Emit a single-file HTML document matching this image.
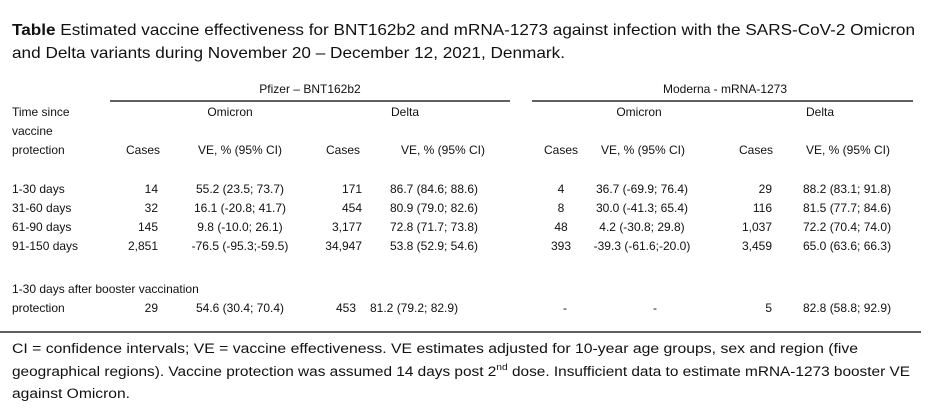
<!DOCTYPE html>
<html><head><meta charset="utf-8"><style>
html,body{margin:0;padding:0;background:#fff}
svg{display:block}
text{font-family:"Liberation Sans",sans-serif;fill:#111}
.t{font-size:12px}
.f{font-size:13.5px}
</style></head><body>
<svg width="932" height="417" viewBox="0 0 932 417" xmlns="http://www.w3.org/2000/svg">
<text x="12" y="35" font-size="16" textLength="903" lengthAdjust="spacingAndGlyphs"><tspan font-weight="bold">Table</tspan> Estimated vaccine effectiveness for BNT162b2 and mRNA-1273 against infection with the SARS-CoV-2 Omicron</text>
<text x="12" y="58" font-size="16" textLength="553" lengthAdjust="spacingAndGlyphs">and Delta variants during November 20 – December 12, 2021, Denmark.</text>

<g class="t">
<text x="310" y="93" text-anchor="middle">Pfizer – BNT162b2</text>
<text x="725" y="93" text-anchor="middle">Moderna - mRNA-1273</text>
<line x1="110" y1="101" x2="510" y2="101" stroke="#000" stroke-width="1.2"/>
<line x1="532" y1="101" x2="913" y2="101" stroke="#000" stroke-width="1.2"/>
<text x="230" y="116" text-anchor="middle">Omicron</text>
<text x="405" y="116" text-anchor="middle">Delta</text>
<text x="639" y="116" text-anchor="middle">Omicron</text>
<text x="820" y="116" text-anchor="middle">Delta</text>
<text x="12" y="116">Time since</text>
<text x="12" y="135">vaccine</text>
<text x="12" y="154">protection</text>
<text x="143" y="154" text-anchor="middle">Cases</text>
<text x="240" y="154" text-anchor="middle">VE, % (95% CI)</text>
<text x="343" y="154" text-anchor="middle">Cases</text>
<text x="443" y="154" text-anchor="middle">VE, % (95% CI)</text>
<text x="561" y="154" text-anchor="middle">Cases</text>
<text x="643" y="154" text-anchor="middle">VE, % (95% CI)</text>
<text x="756" y="154" text-anchor="middle">Cases</text>
<text x="848" y="154" text-anchor="middle">VE, % (95% CI)</text>

<g>
<text x="12" y="193">1-30 days</text>
<text x="158" y="193" text-anchor="end">14</text>
<text x="240" y="193" text-anchor="middle">55.2 (23.5; 73.7)</text>
<text x="362" y="193" text-anchor="end">171</text>
<text x="434" y="193" text-anchor="middle">86.7 (84.6; 88.6)</text>
<text x="561" y="193" text-anchor="middle">4</text>
<text x="642" y="193" text-anchor="middle">36.7 (-69.9; 76.4)</text>
<text x="772" y="193" text-anchor="end">29</text>
<text x="803" y="193">88.2 (83.1; 91.8)</text>

<text x="12" y="212">31-60 days</text>
<text x="158" y="212" text-anchor="end">32</text>
<text x="240" y="212" text-anchor="middle">16.1 (-20.8; 41.7)</text>
<text x="362" y="212" text-anchor="end">454</text>
<text x="434" y="212" text-anchor="middle">80.9 (79.0; 82.6)</text>
<text x="561" y="212" text-anchor="middle">8</text>
<text x="642" y="212" text-anchor="middle">30.0 (-41.3; 65.4)</text>
<text x="772" y="212" text-anchor="end">116</text>
<text x="803" y="212">81.5 (77.7; 84.6)</text>

<text x="12" y="231">61-90 days</text>
<text x="158" y="231" text-anchor="end">145</text>
<text x="240" y="231" text-anchor="middle">9.8 (-10.0; 26.1)</text>
<text x="362" y="231" text-anchor="end">3,177</text>
<text x="434" y="231" text-anchor="middle">72.8 (71.7; 73.8)</text>
<text x="561" y="231" text-anchor="middle">48</text>
<text x="642" y="231" text-anchor="middle">4.2 (-30.8; 29.8)</text>
<text x="772" y="231" text-anchor="end">1,037</text>
<text x="803" y="231">72.2 (70.4; 74.0)</text>

<text x="12" y="250">91-150 days</text>
<text x="158" y="250" text-anchor="end">2,851</text>
<text x="240" y="250" text-anchor="middle">-76.5 (-95.3;-59.5)</text>
<text x="362" y="250" text-anchor="end">34,947</text>
<text x="434" y="250" text-anchor="middle">53.8 (52.9; 54.6)</text>
<text x="561" y="250" text-anchor="middle">393</text>
<text x="642" y="250" text-anchor="middle">-39.3 (-61.6;-20.0)</text>
<text x="772" y="250" text-anchor="end">3,459</text>
<text x="803" y="250">65.0 (63.6; 66.3)</text>

<text x="12" y="293">1-30 days after booster vaccination</text>
<text x="12" y="312">protection</text>
<text x="158" y="312" text-anchor="end">29</text>
<text x="240" y="312" text-anchor="middle">54.6 (30.4; 70.4)</text>
<text x="356" y="312" text-anchor="end">453</text>
<text x="370" y="312">81.2 (79.2; 82.9)</text>
<text x="565" y="312" text-anchor="middle">-</text>
<text x="655" y="312" text-anchor="middle">-</text>
<text x="772" y="312" text-anchor="end">5</text>
<text x="803" y="312">82.8 (58.8; 92.9)</text>
</g>
</g>

<line x1="0" y1="332" x2="921" y2="332" stroke="#000" stroke-width="1.2"/>
<g class="f">
<text x="12" y="353" textLength="846" lengthAdjust="spacingAndGlyphs">CI = confidence intervals; VE = vaccine effectiveness. VE estimates adjusted for 10-year age groups, sex and region (five</text>
<text x="12" y="376" textLength="898" lengthAdjust="spacingAndGlyphs">geographical regions). Vaccine protection was assumed 14 days post 2<tspan font-size="9" dy="-6">nd</tspan><tspan dy="6"> dose. Insufficient data to estimate mRNA-1273 booster VE</tspan></text>
<text x="12" y="398" textLength="118" lengthAdjust="spacingAndGlyphs">against Omicron.</text>
</g>
</svg>
</body></html>
